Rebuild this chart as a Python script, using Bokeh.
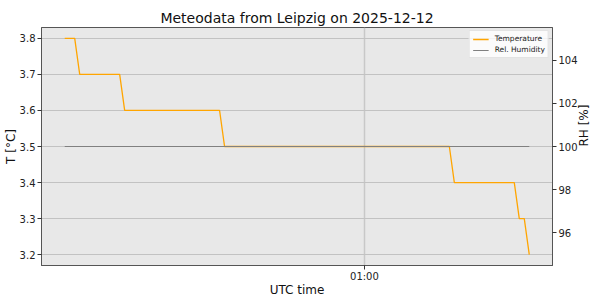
import math
import pandas as pd
from bokeh.plotting import figure
from bokeh.models import (Range1d, LinearAxis, FixedTicker, DatetimeTickFormatter,
                          NumeralTickFormatter, Legend, LegendItem)
from bokeh.embed import file_html
from bokeh.resources import INLINE

# ---- data (1-minute samples, UTC) ----
time_start = "2025-12-12 00:00"
n_samples = 94
times = pd.date_range(time_start, periods=n_samples, freq="1min")

temperature = [
    3.8, 3.8, 3.8,
    3.7, 3.7, 3.7, 3.7, 3.7, 3.7, 3.7, 3.7, 3.7,
    3.6, 3.6, 3.6, 3.6, 3.6, 3.6, 3.6, 3.6, 3.6, 3.6,
    3.6, 3.6, 3.6, 3.6, 3.6, 3.6, 3.6, 3.6, 3.6, 3.6,
    3.5, 3.5, 3.5, 3.5, 3.5, 3.5, 3.5, 3.5, 3.5, 3.5,
    3.5, 3.5, 3.5, 3.5, 3.5, 3.5, 3.5, 3.5, 3.5, 3.5,
    3.5, 3.5, 3.5, 3.5, 3.5, 3.5, 3.5, 3.5, 3.5, 3.5,
    3.5, 3.5, 3.5, 3.5, 3.5, 3.5, 3.5, 3.5, 3.5, 3.5,
    3.5, 3.5, 3.5, 3.5, 3.5, 3.5,
    3.4, 3.4, 3.4, 3.4, 3.4, 3.4, 3.4, 3.4, 3.4, 3.4, 3.4, 3.4, 3.4,
    3.3, 3.3,
    3.2,
]
humidity = [
    100, 100, 100, 100, 100, 100, 100, 100, 100, 100,
    100, 100, 100, 100, 100, 100, 100, 100, 100, 100,
    100, 100, 100, 100, 100, 100, 100, 100, 100, 100,
    100, 100, 100, 100, 100, 100, 100, 100, 100, 100,
    100, 100, 100, 100, 100, 100, 100, 100, 100, 100,
    100, 100, 100, 100, 100, 100, 100, 100, 100, 100,
    100, 100, 100, 100, 100, 100, 100, 100, 100, 100,
    100, 100, 100, 100, 100, 100, 100, 100, 100, 100,
    100, 100, 100, 100, 100, 100, 100, 100, 100, 100,
    100, 100, 100, 100,
]
x_ticks = ["2025-12-12 01:00"]
t_ticks = [3.2, 3.3, 3.4, 3.5, 3.6, 3.7, 3.8]
rh_ticks = [96, 98, 100, 102, 104]

FONT = "DejaVu Sans"

# ranges with 5% padding
span = times[-1] - times[0]
pad = span * 0.05
x_range = Range1d(times[0] - pad, times[-1] + pad)
tmin, tmax = min(temperature), max(temperature)
tpad = (tmax - tmin) * 0.05

p = figure(width=600, height=300, output_backend="svg", toolbar_location=None,
           x_axis_type="datetime", x_range=x_range,
           y_range=Range1d(tmin - tpad, tmax + tpad),
           title="Meteodata from Leipzig on 2025-12-12")
p.extra_y_ranges = {"rh": Range1d(94.47, 105.53)}

p.min_border_left = 41
p.min_border_right = 44
p.min_border_top = 27
p.min_border_bottom = 35
p.background_fill_color = "#e8e8e8"
p.border_fill_color = "white"
p.outline_line_color = "#555555"

p.title.align = "center"
p.title.text_font = FONT
p.title.text_font_size = "14px"
p.title.text_font_style = "normal"
p.title.text_color = "#111111"
p.title.standoff = 4

r_t = p.line(times, temperature, color="orange", line_width=1.3)
r_h = p.line(times, humidity, color="gray", line_width=1.2, y_range_name="rh")

# axes
xa = p.xaxis[0]
xa.ticker = FixedTicker(ticks=[pd.Timestamp(t).value / 1e6 for t in x_ticks])
hm = "%H:%M"
xa.formatter = DatetimeTickFormatter(microseconds=hm, milliseconds=hm, seconds=hm, minsec=hm,
                                     minutes=hm, hourmin=hm, hours=hm, days=hm,
                                     months=hm, years=hm, context=None)
xa.axis_label = "UTC time"

ya = p.yaxis[0]
ya.ticker = FixedTicker(ticks=t_ticks)
ya.formatter = NumeralTickFormatter(format="0.0")
ya.axis_label = "T [°C]"

# right axis with ticks only
ra = LinearAxis(y_range_name="rh")
ra.ticker = FixedTicker(ticks=rh_ticks)
p.add_layout(ra, "right")

for ax in [xa, ya, ra]:
    ax.axis_line_color = "#555555"
    ax.major_tick_line_color = "#333333"
    ax.major_tick_in = 0
    ax.major_tick_out = 4
    ax.minor_tick_line_color = None
    ax.major_label_text_font = FONT
    ax.major_label_text_font_size = "10px"
    ax.major_label_text_color = "#222222"
    ax.axis_label_text_font = FONT
    ax.axis_label_text_font_size = "12px"
    ax.axis_label_text_font_style = "normal"
    ax.axis_label_text_color = "#111111"
    ax.major_label_standoff = 2

ya.axis_label_standoff = -1
xa.axis_label_standoff = -2
xa.major_label_standoff = 1

# label-only axis for the RH title (reads bottom-to-top); bounds shift its centre down
la = LinearAxis(y_range_name="rh", axis_label="RH [%]", bounds=(94.47, 103.55))
la.ticker = FixedTicker(ticks=[])
la.axis_line_color = None
la.major_tick_line_color = None
la.major_tick_out = 0
la.major_tick_in = 0
la.minor_tick_line_color = None
la.major_label_standoff = 0
la.axis_label_text_font = FONT
la.axis_label_text_font_size = "12px"
la.axis_label_text_font_style = "normal"
la.axis_label_text_color = "#111111"
la.axis_label_standoff = 3
la.axis_label_orientation = math.pi / 2
p.add_layout(la, "right")

p.xgrid.ticker = xa.ticker
p.ygrid.ticker = ya.ticker
p.xgrid.grid_line_color = "#c8c8c8"
p.xgrid.grid_line_width = 1.5
p.ygrid.grid_line_color = "#c2c2c2"
p.ygrid.grid_line_width = 1

legend = Legend(items=[LegendItem(label="Temperature", renderers=[r_t]),
                       LegendItem(label="Rel. Humidity", renderers=[r_h])],
                location="top_right")
legend.label_text_font = FONT
legend.label_text_font_size = "7.5px"
legend.label_text_color = "#222222"
legend.glyph_width = 16
legend.glyph_height = 8
legend.label_height = 8
legend.spacing = 2
legend.padding = 3
legend.margin = 3
legend.label_standoff = 6
legend.background_fill_color = "white"
legend.background_fill_alpha = 0.8
legend.border_line_color = "#cccccc"
p.add_layout(legend)

open("out.html", "w").write(file_html(p, INLINE))
